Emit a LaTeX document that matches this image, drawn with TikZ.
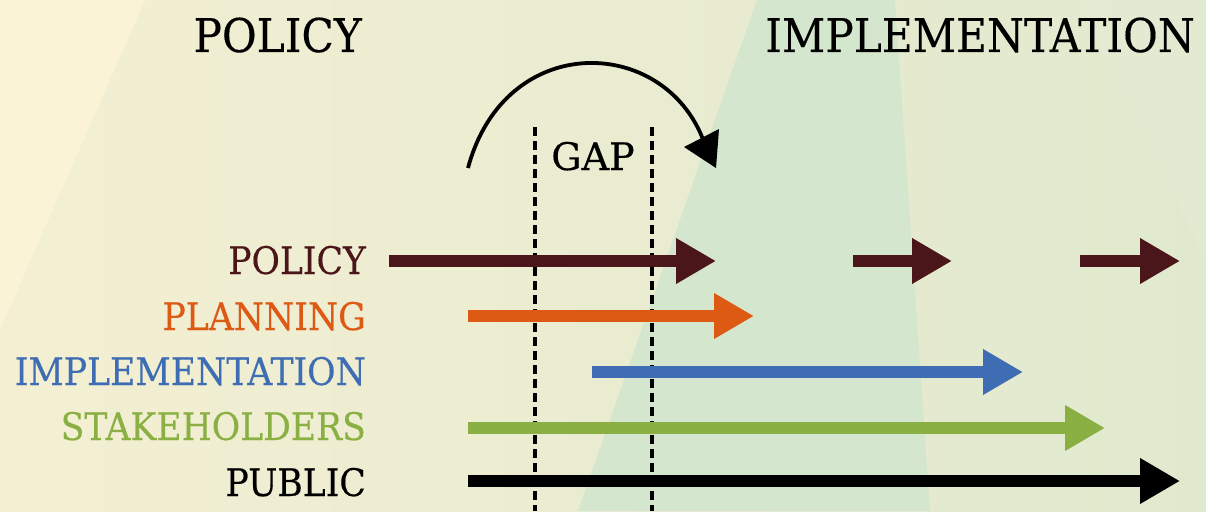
\documentclass[tikz,border=0pt]{standalone}
\usepackage{fontspec}
\setmainfont[FakeStretch=0.91,FakeBold=0.3]{DejaVu Serif}
\newfontfamily\gapfont[FakeBold=0.3]{DejaVu Serif}
\usetikzlibrary{arrows.meta}
\definecolor{polc}{HTML}{4A1619}
\definecolor{planc}{HTML}{DD5A14}
\definecolor{implc}{HTML}{3F6DB3}
\definecolor{stakc}{HTML}{8AB043}
\definecolor{pubc}{HTML}{000000}
\definecolor{bgleft}{HTML}{F4EFD3}
\definecolor{bgright}{HTML}{E0E9CE}
\definecolor{bglight}{HTML}{FAF3D6}
\definecolor{beam}{HTML}{D5E6CE}
\begin{document}
\begin{tikzpicture}[x=1pt,y=-1pt,
  heading/.style={font=\fontsize{46.5}{52}\selectfont, text=black, inner sep=0pt},
  rowlabel/.style={font=\fontsize{38}{42}\selectfont, anchor=base east, inner sep=0pt},
  bigarrow/.style={line width=12pt, -{Triangle[length=40pt,width=43pt]}},
  gapline/.style={line width=3.2pt, dash pattern=on 9pt off 5pt}]
\useasboundingbox (0,0) rectangle (1206,511);
% background
\shade[left color=bgleft, right color=bgright] (0,0) rectangle (1206,511);
\fill[bglight] (0,0) -- (145,0) -- (0,330) -- cycle;
\fill[beam] (757,0) -- (895,0) -- (930,511) -- (578,511) -- cycle;
\fill[bgright!60!white, opacity=0.2] (1077,0) -- (1206,0) -- (1206,260) -- cycle;
% headings
\node[heading, anchor=base east] (hpol) at (362,52) {POLICY};
\node[heading, anchor=base east] (himp) at (1195,52) {IMPLEMENTATION};
% gap
\coordinate (g1t) at (535,127); \coordinate (g1b) at (535,511);
\coordinate (g2t) at (652,127); \coordinate (g2b) at (652,511);
\draw[gapline] (g1t) -- (g1b);
\draw[gapline] (g2t) -- (g2b);
\node[font=\gapfont\fontsize{38}{42}\selectfont, inner sep=0pt, anchor=base] (gap) at (593,170) {GAP};
% jump arc
\coordinate (arcS) at (468,168);
\coordinate (arcE) at (704,142);
\draw[line width=3.8pt] (arcS) .. controls (505,30) and (665,35) .. (arcE);
\coordinate (tipA) at (684,147);
\coordinate (tipB) at (719,129);
\coordinate (tipC) at (716,168);
\fill (tipA) -- (tipB) -- (tipC) -- cycle;
% row labels
\node[rowlabel, text=polc] (lpol) at (366,274) {POLICY};
\node[rowlabel, text=planc] (lplan) at (366,330) {PLANNING};
\node[rowlabel, text=implc] (limp) at (366,385) {IMPLEMENTATION};
\node[rowlabel, text=stakc] (lstak) at (366,440) {STAKEHOLDERS};
\node[rowlabel, text=pubc] (lpub) at (366,496) {PUBLIC};
% arrows
\coordinate (p1s) at (389,261); \coordinate (p1e) at (716,261);
\coordinate (p2s) at (853,261); \coordinate (p2e) at (952,261);
\coordinate (p3s) at (1080,261); \coordinate (p3e) at (1180,261);
\coordinate (pls) at (468,316); \coordinate (ple) at (754,316);
\coordinate (ims) at (592,372); \coordinate (ime) at (1023,372);
\coordinate (sts) at (468,428); \coordinate (ste) at (1105,428);
\coordinate (pus) at (468,481); \coordinate (pue) at (1180,481);
\draw[bigarrow, polc] (p1s) -- (p1e);
\draw[bigarrow, polc] (p2s) -- (p2e);
\draw[bigarrow, polc] (p3s) -- (p3e);
\draw[bigarrow, planc] (pls) -- (ple);
\draw[bigarrow, implc] (ims) -- (ime);
\draw[bigarrow, stakc] (sts) -- (ste);
\draw[bigarrow, pubc] (pus) -- (pue);
\end{tikzpicture}
\end{document}
